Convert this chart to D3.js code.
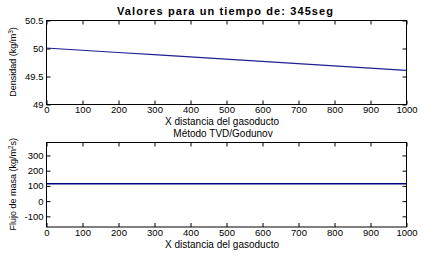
<!DOCTYPE html>
<html>
<head>
<meta charset="utf-8">
<script src="https://cdn.jsdelivr.net/npm/d3@7"></script>
<style>
  body { margin: 0; background: #fff; }
  svg { display: block; font-family: "Liberation Sans", Arial, sans-serif; }
</style>
</head>
<body>
<div class="chart"></div>
<script>
// distance along the pipeline (m)
const distancia = [0, 100, 200, 300, 400, 500, 600, 700, 800, 900, 1000];
// density (kg/m^3)
const densidad = [50.0, 49.96, 49.92, 49.88, 49.84, 49.8, 49.76, 49.72, 49.68, 49.64, 49.6];
// mass flux (kg/m^2 s)
const flujo = [110, 110, 110, 110, 110, 110, 110, 110, 110, 110, 110];

const xTicks = [0, 100, 200, 300, 400, 500, 600, 700, 800, 900, 1000];
const yTicksDens = [49, 49.5, 50, 50.5];
const yTicksFlujo = [-100, 0, 100, 200, 300];

const W = 424, H = 256;
const left = 46, right = 406;

const svg = d3.select(".chart").append("svg")
  .attr("width", W).attr("height", H);
svg.append("rect").attr("width", W).attr("height", H).attr("fill", "#fff");

const x = d3.scaleLinear().domain([0, 1000]).range([left, right]);

function panel(opts) {
  const y = d3.scaleLinear().domain(opts.domain).range([opts.bottom, opts.top]);
  const g = svg.append("g");

  // line
  g.append("path")
    .datum(opts.values)
    .attr("fill", "none")
    .attr("stroke", opts.color)
    .attr("stroke-width", opts.width)
    .attr("d", d3.line().x((d, i) => x(distancia[i])).y(d => y(d)));

  // box
  g.append("rect")
    .attr("x", left + 0.5).attr("y", opts.top + 0.5)
    .attr("width", right - left).attr("height", opts.bottom - opts.top)
    .attr("fill", "none").attr("stroke", "#000").attr("stroke-width", 1);

  // inward ticks on all four sides, MATLAB style
  const tl = 4;
  g.append("g").attr("transform", `translate(0.5,${opts.bottom + 0.5})`)
    .call(d3.axisBottom(x).tickValues(xTicks).tickSize(-tl).tickPadding(2).tickFormat(d3.format("d")));
  g.append("g").attr("transform", `translate(0.5,${opts.top + 0.5})`)
    .call(d3.axisTop(x).tickValues(xTicks).tickSize(-tl).tickFormat(""));
  g.append("g").attr("transform", `translate(${left + 0.5},0.5)`)
    .call(d3.axisLeft(y).tickValues(opts.yTicks).tickSize(-tl).tickPadding(3).tickFormat(d => String(d)));
  g.append("g").attr("transform", `translate(${right + 0.5},0.5)`)
    .call(d3.axisRight(y).tickValues(opts.yTicks).tickSize(-tl).tickFormat(""));

  g.selectAll(".domain").remove();
  g.selectAll(".tick line").attr("stroke", "#000");
  g.selectAll(".tick text").attr("fill", "#000")
    .style("font-size", "9.5px")
    .style("font-family", "Liberation Sans, Arial, sans-serif");

  // x label
  g.append("text")
    .attr("x", (left + right) / 2 - 4).attr("y", opts.bottom + 21)
    .attr("text-anchor", "middle")
    .style("font-size", "10px")
    .text("X distancia del gasoducto");

  // y label
  const ylab = g.append("text")
    .attr("transform", `translate(16,${(opts.top + opts.bottom) / 2}) rotate(-90)`)
    .attr("text-anchor", "middle")
    .style("font-size", "9px");
  ylab.append("tspan").text(opts.ylabel[0]);
  ylab.append("tspan").attr("baseline-shift", "super").style("font-size", "6.5px").text(opts.ylabel[1]);
  ylab.append("tspan").text(opts.ylabel[2]);
}

panel({
  top: 20, bottom: 104, domain: [49, 50.5], yTicks: yTicksDens,
  values: densidad, color: "#1f1f96", width: 1.2,
  ylabel: ["Densidad (kg/m", "3", ")"]
});

panel({
  top: 142, bottom: 226.5, domain: [-170, 385], yTicks: yTicksFlujo,
  values: flujo, color: "#000080", width: 1.5,
  ylabel: ["Flujo de masa (kg/m", "2", "s)"]
});

// titles
svg.append("text")
  .attr("x", 225).attr("y", 15)
  .attr("text-anchor", "middle")
  .attr("textLength", 216).attr("lengthAdjust", "spacing")
  .style("font-size", "11px").style("font-weight", "bold")
  .text("Valores para un tiempo de: 345seg");

svg.append("text")
  .attr("x", 223).attr("y", 136.5)
  .attr("text-anchor", "middle")
  .style("font-size", "10px")
  .text("Método TVD/Godunov");
</script>
</body>
</html>
